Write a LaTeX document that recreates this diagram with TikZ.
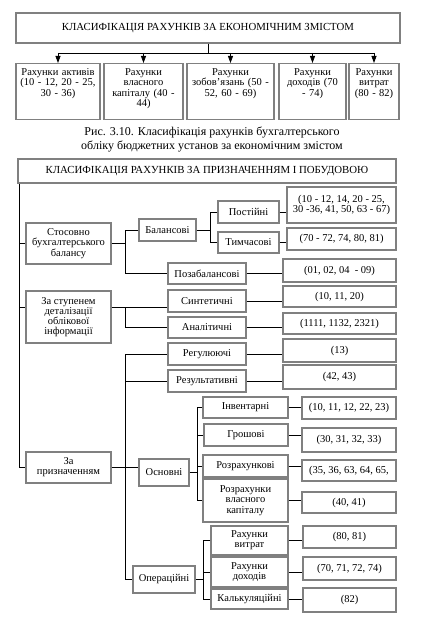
\documentclass[tikz,border=0pt]{standalone}
\usepackage{fontspec}
\setmainfont{Liberation Serif}
\usetikzlibrary{arrows.meta}
\definecolor{boxgray}{RGB}{128,128,128}

\begin{document}
\begin{tikzpicture}[x=1pt, y=-1pt,
  box/.style={draw=boxgray, line width=1.4pt, fill=white, align=center,
    inner sep=1pt, font={\fontsize{10.5}{10.2}\selectfont}},
  head/.style={box, font={\fontsize{10.8}{12}\selectfont}},
  econ/.style={box, anchor=north, text width=#1, text height=9pt, text depth=41pt,
    inner xsep=2pt, inner ysep=3pt},
  lnk/.style={line width=0.8pt},
  arr/.style={lnk, -{Triangle[length=7pt, width=5pt]}},
]
  \useasboundingbox (0,0) rectangle (425,618);

  % economic content
  \node[head, minimum width=384pt, minimum height=30pt] (t1) at (208,28)
    {КЛАСИФІКАЦІЯ РАХУНКІВ ЗА ЕКОНОМІЧНИМ ЗМІСТОМ};
  \node[econ=80pt] (a1) at (58,63) {Рахунки активів\\(10 - 12, 20 - 25,\\30 - 36)};
  \node[econ=75pt] (a2) at (143.5,63) {Рахунки\\власного\\капіталу (40 -\\44)};
  \node[econ=83pt] (a3) at (230.5,63) {Рахунки\\зобов’язань (50 -\\52, 60 - 69)};
  \node[econ=63pt] (a4) at (312.5,63) {Рахунки\\доходів (70\\- 74)};
  \node[econ=46pt] (a5) at (374,63) {Рахунки\\витрат\\(80 - 82)};
  \coordinate (bus) at (0,53);
  \draw[lnk] (t1.south) -- (t1.south |- bus);
  \draw[lnk] (a1.north |- bus) -- (a5.north |- bus);
  \foreach \n in {a1,a2,a3,a4,a5}
    \draw[arr] (\n.north |- bus) -- (\n.north);

  \node[font={\fontsize{12}{14}\selectfont}, align=center] (cap) at (212,139)
    {Рис. 3.10. Класифікація рахунків бухгалтерського\\
     обліку бюджетних установ за економічним змістом};

  % purpose and structure
  \node[head, minimum width=378pt, minimum height=24pt] (t2) at (207,171)
    {КЛАСИФІКАЦІЯ РАХУНКІВ ЗА ПРИЗНАЧЕННЯМ І ПОБУДОВОЮ};
  \node[box, minimum width=85pt, minimum height=41pt] (g1) at (68.5,243.5) {Стосовно\\бухгалтерського\\балансу};
  \node[box, minimum width=85pt, minimum height=52pt] (g2) at (68.5,317) {За ступенем\\деталізації\\облікової\\інформації};
  \node[box, minimum width=85pt, minimum height=31pt] (g3) at (68.5,467.5) {За\\призначенням};

  \node[box, minimum width=57pt, minimum height=22pt] (b1) at (167.5,230) {Балансові};
  \node[box, minimum width=78pt, minimum height=21pt] (b2) at (207,273.5) {Позабалансові};
  \node[box, minimum width=61pt, minimum height=22pt] (c1) at (248.5,212) {Постійні};
  \node[box, minimum width=61pt, minimum height=21pt] (c2) at (248.5,242.5) {Тимчасові};
  \node[box, minimum width=109pt, minimum height=36pt] (r1) at (341.5,205) {(10 - 12, 14, 20 - 25,\\30 -36, 41, 50, 63 - 67)};
  \node[box, minimum width=109pt, minimum height=22pt] (r2) at (341.5,239) {(70 - 72, 74, 80, 81)};
  \node[box, minimum width=113pt, minimum height=23pt] (r3) at (339.5,270.5) {(01, 02, 04 \ - 09)};

  \node[box, minimum width=78pt, minimum height=22pt] (d1) at (207,301) {Синтетичні};
  \node[box, minimum width=78pt, minimum height=21pt] (d2) at (207,327.5) {Аналітичні};
  \node[box, minimum width=113pt, minimum height=21pt] (r4) at (339.5,296.5) {(10, 11, 20)};
  \node[box, minimum width=113pt, minimum height=21pt] (r5) at (339.5,323.5) {(1111, 1132, 2321)};

  \node[box, minimum width=78pt, minimum height=22pt] (e1) at (207,354) {Регулюючі};
  \node[box, minimum width=78pt, minimum height=22pt] (e2) at (207,381) {Результативні};
  \node[box, minimum width=113pt, minimum height=23pt] (r6) at (339.5,350.5) {(13)};
  \node[box, minimum width=113pt, minimum height=24pt] (r7) at (339.5,377) {(42, 43)};
  \node[box, minimum width=50pt, minimum height=27pt] (e3) at (164,472.5) {Основні};
  \node[box, minimum width=62pt, minimum height=27pt] (e4) at (164,579.5) {Операційні};

  \node[box, minimum width=85pt, minimum height=21pt] (f1) at (245.5,407.5) {Інвентарні};
  \node[box, minimum width=84pt, minimum height=22pt] (f2) at (246,435) {Грошові};
  \node[box, minimum width=85pt, minimum height=22pt] (f3) at (245.5,466) {Розрахункові};
  \node[box, minimum width=85pt, minimum height=43pt] (f4) at (245.5,500.5) {Розрахунки\\власного\\капіталу};
  \node[box, minimum width=94pt, minimum height=22pt] (r8) at (349,408) {(10, 11, 12, 22, 23)};
  \node[box, minimum width=94pt, minimum height=24pt] (r9) at (349,440) {(30, 31, 32, 33)};
  \node[box, minimum width=94pt, minimum height=21pt] (r10) at (349,470.5) {(35, 36, 63, 64, 65,};
  \node[box, minimum width=94pt, minimum height=21pt] (r11) at (349,502.5) {(40, 41)};

  \node[box, minimum width=77pt, minimum height=29pt] (h1) at (249.5,540.5) {Рахунки\\витрат};
  \node[box, minimum width=77pt, minimum height=30pt] (h2) at (249.5,572) {Рахунки\\доходів};
  \node[box, minimum width=77pt, minimum height=20pt] (h3) at (249.5,599) {Калькуляційні};
  \node[box, minimum width=93pt, minimum height=22pt] (r12) at (349.5,537) {(80, 81)};
  \node[box, minimum width=93pt, minimum height=23pt] (r13) at (349.5,568.5) {(70, 71, 72, 74)};
  \node[box, minimum width=93pt, minimum height=24pt] (r14) at (349.5,600) {(82)};

  % junctions
  \coordinate (sp) at (19,0);
  \coordinate (j1) at (125,0);
  \coordinate (j2) at (125,307);
  \coordinate (k0) at (210,0);
  \coordinate (k1) at (197,0);
  \coordinate (k2) at (203,0);

  \draw[lnk] (t2.south -| sp) |- (g3.west);
  \draw[lnk] (sp |- g1.west) -- (g1.west);
  \draw[lnk] (sp |- j2) -- (g2.west |- j2);

  \draw[lnk] (g1.east) -- (g1.east -| j1);
  \draw[lnk] (b1.west) -| (j1 |- b2.west) -- (b2.west);
  \draw[lnk] (b1.east) -- (b1.east -| k0);
  \draw[lnk] (c1.west) -| (k0 |- c2.west) -- (c2.west);
  \draw[lnk] (c1.east) -- (r1.west |- c1.east);
  \draw[lnk] (c2.east) -- (r2.west |- c2.east);
  \draw[lnk] (b2.east) -- (r3.west |- b2.east);

  \draw[lnk] (g2.east |- j2) -- (d1.west |- j2);
  \draw[lnk] (j2) |- (d2.west);
  \draw[lnk] (d1.east) -- (r4.west |- d1.east);
  \draw[lnk] (d2.east) -- (r5.west |- d2.east);

  \draw[lnk] (g3.east) -- (e3.west |- g3.east);
  \draw[lnk] (e1.west) -| (j1 |- e4.west) -- (e4.west);
  \draw[lnk] (j1 |- e2.west) -- (e2.west);
  \draw[lnk] (e1.east) -- (r6.west |- e1.east);
  \draw[lnk] (e2.east) -- (r7.west |- e2.east);

  \draw[lnk] (e3.east) -- (e3.east -| k1);
  \draw[lnk] (f1.west) -| (k1 |- f4.west) -- (f4.west);
  \draw[lnk] (k1 |- f2.west) -- (f2.west);
  \draw[lnk] (k1 |- f3.west) -- (f3.west);
  \foreach \a/\b in {f1/r8, f2/r9, f3/r10, f4/r11}
    \draw[lnk] (\a.east) -- (\b.west |- \a.east);

  \draw[lnk] (e4.east) -- (e4.east -| k2);
  \draw[lnk] (h1.west) -| (k2 |- h3.west) -- (h3.west);
  \draw[lnk] (k2 |- h2.west) -- (h2.west);
  \foreach \a/\b in {h1/r12, h2/r13, h3/r14}
    \draw[lnk] (\a.east) -- (\b.west |- \a.east);
\end{tikzpicture}
\end{document}
